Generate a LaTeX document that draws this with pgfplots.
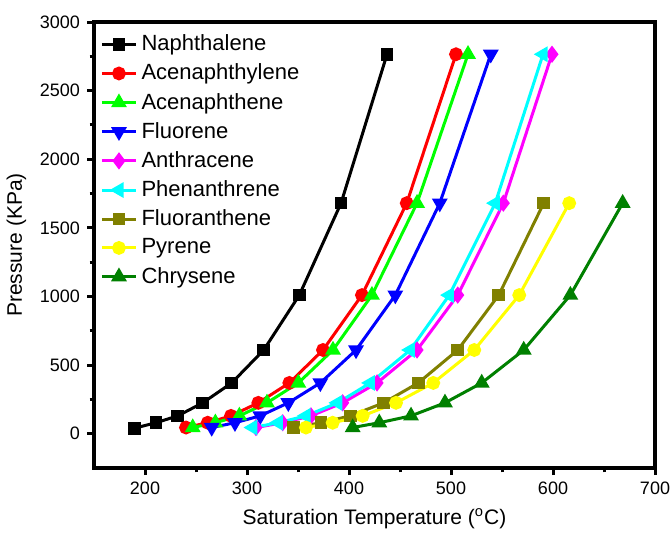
\documentclass[border=0pt]{standalone}
\usepackage{pgfplots}
\pgfplotsset{compat=1.18}
\usetikzlibrary{calc}
\usepackage{fontspec}
\setmainfont{Liberation Sans}

\definecolor{olivec}{RGB}{128,128,0}
\definecolor{dkgreen}{RGB}{0,128,0}
\definecolor{yel}{RGB}{255,255,0}
\definecolor{grn}{RGB}{0,255,0}
\definecolor{cyn}{RGB}{0,255,255}
\definecolor{mag}{RGB}{255,0,255}
\definecolor{rd}{RGB}{255,0,0}
\definecolor{bl}{RGB}{0,0,255}

\begin{document}
\begin{tikzpicture}
\begin{axis}[
    name=ax,
    width=280.5pt, height=223pt, scale only axis,
    xmin=150, xmax=700, ymin=-250, ymax=3000,
    xtick={200,300,...,700}, ytick={0,500,...,3000},
    minor x tick num=1, minor y tick num=1,
    tick align=outside, xtick pos=bottom, ytick pos=left,
    major tick length=3.5pt, minor tick length=2.2pt,
    every tick/.style={black, line width=1.5pt},
    axis line style={line width=2pt},
    /pgf/number format/assume math mode=true,
    /pgf/number format/1000 sep={},
    tick label style={font=\fontsize{9}{10}\selectfont},
    label style={font=\fontsize{10.5}{12}\selectfont},
    xlabel={Saturation Temperature (\textsuperscript{o}C)},
    ylabel={Pressure (KPa)},
    legend style={at={(0.0,0.99)}, anchor=north west, draw=none, fill=none,
        font=\fontsize{11}{12}\selectfont, row sep=1.1pt},
    legend cell align=left,
    every axis plot/.append style={line width=1.5pt},
    every mark/.append style={solid},
]
\addplot[black, mark=square*, mark size=2.4pt] coordinates {
(189.5,40) (210.8,80) (232.1,130) (256.6,225) (285.0,370) (316.4,610) (351.3,1010) (392.2,1680) (437.3,2765)};
\addlegendentry{Naphthalene}
\addplot[rd, mark=*, mark size=2.7pt] coordinates {
(240.2,45) (261.5,80) (284.3,130) (311.1,225) (341.5,370) (374.5,610) (412.7,1010) (456.6,1680) (504.9,2765)};
\addlegendentry{Acenaphthylene}
\addplot[grn, mark=triangle*, mark size=3.1pt] coordinates {
(246.8,45) (269.0,80) (292.5,130) (319.6,225) (350.3,370) (384.3,610) (422.5,1010) (466.7,1680) (516.7,2765)};
\addlegendentry{Acenaphthene}
\addplot[bl, mark=triangle*, mark size=3.1pt, mark options={rotate=180}] coordinates {
(265.4,45) (288.2,80) (313.0,130) (340.5,225) (371.9,370) (406.9,610) (445.4,1010) (489.0,1680) (539.0,2765)};
\addlegendentry{Fluorene}
\addplot[mag, mark=diamond*, mark size=3.1pt] coordinates {
(308.8,45) (335.0,80) (362.7,130) (393.8,225) (427.5,370) (466.7,610) (506.6,1010) (551.3,1680) (599.0,2765)};
\addlegendentry{Anthracene}
\addplot[cyn, mark=triangle*, mark size=3.1pt, mark options={rotate=90}] coordinates {
(305.6,45) (330.7,80) (357.8,130) (388.9,225) (420.9,370) (460.1,610) (498.3,1010) (543.4,1680) (590.2,2765)};
\addlegendentry{Phenanthrene}
\addplot[olivec, mark=square*, mark size=2.4pt] coordinates {
(345.8,45) (372.5,80) (401.3,130) (434.0,225) (467.9,370) (506.6,610) (546.8,1010) (590.9,1680)};
\addlegendentry{Fluoranthene}
\addplot[yel, mark=*, mark size=2.7pt] coordinates {
(357.8,45) (384.0,80) (413.4,130) (446.1,225) (482.6,370) (522.8,610) (566.9,1010) (615.9,1680)};
\addlegendentry{Pyrene}
\addplot[dkgreen, mark=triangle*, mark size=3.1pt] coordinates {
(403.6,45) (429.7,80) (460.8,130) (494.1,225) (530.1,370) (571.3,610) (617.0,1010) (668.3,1680)};
\addlegendentry{Chrysene}
\end{axis}
\pgfresetboundingbox
\path ($(ax.south west)+(-47pt,-35pt)$) rectangle ($(ax.north east)+(8pt,11pt)$);
\end{tikzpicture}
\end{document}
